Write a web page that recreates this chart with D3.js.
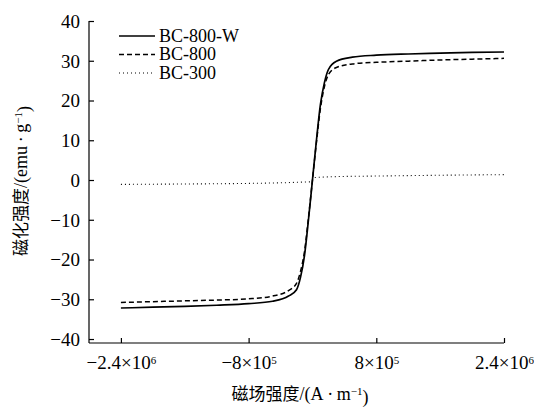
<!DOCTYPE html>
<html>
<head>
<meta charset="utf-8">
<script src="https://cdn.jsdelivr.net/npm/d3@7"></script>
<style>
  body { margin: 0; background: #fff; }
  svg { display: block; }
  text { font-family: "Liberation Serif", "Times New Roman", serif; fill: #000; }
  .cjk { font-family: "Noto Sans CJK SC", serif; }
</style>
</head>
<body>
<svg id="svg" width="534" height="408"></svg>
<script>
// 磁场强度 (A/m) 与 磁化强度 (emu/g)
var fieldW = [-2.4e6, -2.0e6, -1.6e6, -1.2e6, -8e5, -5e5, -3e5, -2e5, -1.5e5, -1e5, -5e4, 0, 5e4, 1e5, 1.5e5, 2e5, 3e5, 5e5, 8e5, 1.2e6, 1.6e6, 2.0e6, 2.4e6];
var magW = [-32.2, -32.0, -31.8, -31.5, -31.1, -30.5, -29.2, -27.6, -24.5, -19, -10, 0, 10, 19, 24.5, 27.8, 29.9, 30.9, 31.4, 31.7, 31.9, 32.1, 32.2];
var field800 = [-2.4e6, -2.0e6, -1.6e6, -1.2e6, -8e5, -5e5, -3e5, -2e5, -1.5e5, -1e5, -5e4, 0, 5e4, 1e5, 1.5e5, 2e5, 3e5, 5e5, 8e5, 1.2e6, 1.6e6, 2.0e6, 2.4e6];
var mag800 = [-30.8, -30.6, -30.4, -30.2, -29.9, -29.2, -27.8, -26, -23, -18, -9.5, 0, 9.5, 18, 23.5, 26.5, 28.3, 29.2, 29.6, 29.9, 30.2, 30.4, 30.6];
var field300 = [-2.4e6, -1.6e6, -8e5, -3e5, -1e5, -2e4, 0, 2e4, 1e5, 3e5, 8e5, 1.6e6, 2.4e6];
var mag300 = [-1.1, -1.0, -0.85, -0.65, -0.5, -0.45, 0, 0.6, 0.7, 0.85, 1.0, 1.2, 1.35];
var seriesNames = ["BC-800-W", "BC-800", "BC-300"];
var xTicks = [-2.4e6, -8e5, 8e5, 2.4e6];
var xTickLabels = [["\u22122.4\u00d710", "6"], ["\u22128\u00d710", "5"], ["8\u00d710", "5"], ["2.4\u00d710", "6"]];
var yTicks = [-40, -30, -20, -10, 0, 10, 20, 30, 40];

var svg = d3.select("#svg");
var mLeft = 89, mRight = 504, mTop = 21, mBottom = 343;

var x = d3.scaleLinear().domain([-2.8e6, 2.4e6]).range([mLeft, mRight]);
var y = d3.scaleLinear().domain([-41, 40]).range([mBottom, mTop]);

var dashes = [null, "5,3", "1,3"];
var widths = [1.7, 1.5, 1.1];
var series = [
  { name: seriesNames[0], xs: fieldW, ys: magW },
  { name: seriesNames[1], xs: field800, ys: mag800 },
  { name: seriesNames[2], xs: field300, ys: mag300 }
];

var line = d3.line()
  .x(function(d) { return x(d[0]); })
  .y(function(d) { return y(d[1]); })
  .curve(d3.curveMonotoneX);

// y 轴
var yAxis = d3.axisLeft(y).tickValues(yTicks).tickSizeInner(-5).tickSizeOuter(0)
  .tickFormat(function(d) { return d < 0 ? "\u2212" + Math.abs(d) : d; });
var gy = svg.append("g").attr("transform", "translate(" + mLeft + ",0)").call(yAxis);
gy.select(".domain").remove();
gy.append("line").attr("x1", 0).attr("x2", 0).attr("y1", mTop).attr("y2", mBottom).attr("stroke", "#000").attr("stroke-width", 1.2);
gy.selectAll(".tick line").attr("stroke", "#000").attr("stroke-width", 1.2);
gy.selectAll(".tick text").attr("x", -9).attr("dy", "0.34em")
  .style("font-size", "19px").style("font-family", "Liberation Serif, serif");

// x 轴
var xAxis = d3.axisBottom(x).tickValues(xTicks).tickSizeInner(-5).tickSizeOuter(0).tickFormat("");
var gx = svg.append("g").attr("transform", "translate(0," + mBottom + ")").call(xAxis);
gx.select(".domain").remove();
gx.append("line").attr("x1", mLeft).attr("x2", mRight).attr("y1", 0).attr("y2", 0).attr("stroke", "#000").attr("stroke-width", 1.2);
gx.selectAll(".tick line").attr("stroke", "#000").attr("stroke-width", 1.2);
gx.selectAll(".tick").each(function(d, i) {
  var t = d3.select(this).append("text").attr("y", 26).attr("text-anchor", "middle")
    .style("font-size", "19px").style("font-family", "Liberation Serif, serif");
  t.append("tspan").text(xTickLabels[i][0]);
  t.append("tspan").attr("dy", "-0.45em").style("font-size", "11px").text(xTickLabels[i][1]);
});

// 曲线
series.forEach(function(s, i) {
  var pts = s.xs.map(function(v, j) { return [v, s.ys[j]]; });
  svg.append("path").datum(pts)
    .attr("fill", "none").attr("stroke", "#000")
    .attr("stroke-width", widths[i])
    .attr("stroke-dasharray", dashes[i])
    .attr("d", line);
});

// 图例
var lg = svg.append("g").attr("transform", "translate(119,36)");
series.forEach(function(s, i) {
  var g = lg.append("g").attr("transform", "translate(0," + (i * 18.5) + ")");
  g.append("line").attr("x1", 0).attr("x2", 36).attr("y1", 0).attr("y2", 0)
    .attr("stroke", "#000").attr("stroke-width", widths[i]).attr("stroke-dasharray", dashes[i]);
  g.append("text").attr("x", 40).attr("dy", "0.33em").style("font-size", "18px").text(s.name);
});

// 轴标题
var xt = svg.append("text").attr("x", 300).attr("y", 400).attr("text-anchor", "middle").style("font-size", "18px");
xt.append("tspan").attr("class", "cjk").style("font-size", "17px").text("磁场强度");
xt.append("tspan").text("/(A\u2009\u00b7\u2009m");
xt.append("tspan").attr("dy", "-0.45em").style("font-size", "11px").text("\u22121");
xt.append("tspan").attr("dy", "0.45em").text(")");

var yt = svg.append("text").attr("transform", "translate(27,181) rotate(-90)").attr("text-anchor", "middle").style("font-size", "18px");
yt.append("tspan").attr("class", "cjk").style("font-size", "17px").text("磁化强度");
yt.append("tspan").text("/(emu\u2009\u00b7\u2009g");
yt.append("tspan").attr("dy", "-0.45em").style("font-size", "11px").text("\u22121");
yt.append("tspan").attr("dy", "0.45em").text(")");
</script>
</body>
</html>
